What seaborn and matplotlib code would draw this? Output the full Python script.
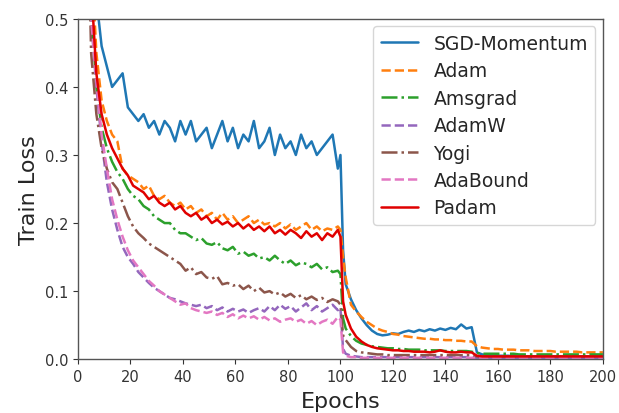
import matplotlib
matplotlib.use("Agg")
import matplotlib.pyplot as plt
import numpy as np
import pandas as pd
import seaborn as sns

# epochs: every other epoch before and after the lr drop at 100
epochs = list(range(1, 100, 2)) + [100, 101] + list(range(102, 201, 2))

sgd = [2.2, 1.2, 0.75, 0.53, 0.46, 0.43, 0.40, 0.41, 0.42, 0.37,
       0.36, 0.35, 0.36, 0.34, 0.35, 0.33, 0.35, 0.34, 0.32, 0.35,
       0.33, 0.35, 0.32, 0.33, 0.34, 0.31, 0.33, 0.35, 0.32, 0.34,
       0.31, 0.33, 0.32, 0.35, 0.31, 0.32, 0.34, 0.30, 0.33, 0.31,
       0.32, 0.30, 0.33, 0.31, 0.32, 0.30, 0.31, 0.32, 0.33, 0.28,
       0.30, 0.16,
       0.11, 0.088, 0.072, 0.060, 0.050, 0.042, 0.037, 0.035, 0.036, 0.038,
       0.037, 0.040, 0.042, 0.040, 0.043, 0.041, 0.044, 0.042, 0.045, 0.043,
       0.046, 0.044, 0.051, 0.045, 0.047, 0.010, 0.007, 0.006, 0.005, 0.005,
       0.005, 0.005, 0.004, 0.004, 0.004, 0.004, 0.004, 0.004, 0.004, 0.004,
       0.004, 0.004, 0.004, 0.004, 0.004, 0.004, 0.004, 0.004, 0.004, 0.004]

adam = [2.0, 1.0, 0.60, 0.45, 0.38, 0.35, 0.33, 0.32, 0.28, 0.27,
        0.265, 0.26, 0.25, 0.255, 0.24, 0.235, 0.24, 0.23, 0.225, 0.23,
        0.22, 0.225, 0.215, 0.22, 0.21, 0.215, 0.205, 0.215, 0.205, 0.21,
        0.20, 0.205, 0.21, 0.20, 0.205, 0.198, 0.20, 0.195, 0.20, 0.192,
        0.198, 0.19, 0.195, 0.20, 0.19, 0.195, 0.188, 0.192, 0.19, 0.195,
        0.19, 0.15,
        0.12, 0.08, 0.07, 0.062, 0.055, 0.050, 0.045, 0.042, 0.040, 0.037,
        0.036, 0.034, 0.033, 0.032, 0.031, 0.030, 0.030, 0.029, 0.029, 0.028,
        0.028, 0.027, 0.027, 0.026, 0.026, 0.019, 0.017, 0.016, 0.015, 0.015,
        0.014, 0.014, 0.014, 0.013, 0.013, 0.013, 0.012, 0.012, 0.012, 0.012,
        0.011, 0.011, 0.011, 0.011, 0.011, 0.010, 0.010, 0.010, 0.010, 0.010]

amsgrad = [1.9, 0.9, 0.52, 0.40, 0.34, 0.31, 0.29, 0.275, 0.265, 0.25,
           0.24, 0.235, 0.225, 0.22, 0.21, 0.205, 0.20, 0.20, 0.19, 0.185,
           0.185, 0.18, 0.175, 0.178, 0.17, 0.168, 0.172, 0.163, 0.16, 0.165,
           0.155, 0.158, 0.152, 0.155, 0.148, 0.15, 0.145, 0.152, 0.145, 0.14,
           0.145, 0.138, 0.142, 0.14, 0.135, 0.14, 0.132, 0.135, 0.128, 0.13,
           0.125, 0.06,
           0.045, 0.034, 0.027, 0.023, 0.021, 0.019, 0.018, 0.017, 0.016, 0.016,
           0.015, 0.015, 0.014, 0.014, 0.014, 0.013, 0.013, 0.013, 0.013, 0.012,
           0.012, 0.012, 0.012, 0.012, 0.011, 0.009, 0.008, 0.008, 0.008, 0.008,
           0.008, 0.008, 0.008, 0.007, 0.007, 0.007, 0.007, 0.007, 0.007, 0.007,
           0.007, 0.007, 0.007, 0.007, 0.007, 0.007, 0.007, 0.007, 0.007, 0.007]

adamw = [1.7, 0.8, 0.50, 0.40, 0.32, 0.26, 0.22, 0.19, 0.165, 0.15,
         0.14, 0.128, 0.12, 0.112, 0.105, 0.10, 0.095, 0.09, 0.088, 0.085,
         0.082, 0.08, 0.078, 0.08, 0.075, 0.078, 0.072, 0.076, 0.07, 0.074,
         0.07, 0.073, 0.068, 0.072, 0.075, 0.07, 0.078, 0.072, 0.08, 0.074,
         0.078, 0.07, 0.076, 0.082, 0.072, 0.078, 0.07, 0.075, 0.08, 0.072,
         0.075, 0.015,
         0.008, 0.005, 0.004, 0.003, 0.003, 0.003, 0.003, 0.003, 0.003, 0.003,
         0.003, 0.003, 0.003, 0.003, 0.003, 0.003, 0.003, 0.003, 0.003, 0.003,
         0.003, 0.003, 0.003, 0.003, 0.003, 0.002, 0.002, 0.002, 0.002, 0.002,
         0.002, 0.002, 0.002, 0.002, 0.002, 0.002, 0.002, 0.002, 0.002, 0.002,
         0.002, 0.002, 0.002, 0.002, 0.002, 0.002, 0.002, 0.002, 0.002, 0.002]

yogi = [1.8, 0.8, 0.45, 0.36, 0.31, 0.28, 0.26, 0.25, 0.23, 0.21,
        0.195, 0.185, 0.178, 0.17, 0.165, 0.16, 0.155, 0.15, 0.145, 0.14,
        0.13, 0.135, 0.125, 0.128, 0.12, 0.118, 0.122, 0.11, 0.112, 0.108,
        0.11, 0.103, 0.108, 0.10, 0.105, 0.098, 0.10, 0.095, 0.098, 0.092,
        0.096, 0.09, 0.094, 0.088, 0.092, 0.087, 0.09, 0.084, 0.088, 0.085,
        0.08, 0.035,
        0.028, 0.018, 0.012, 0.010, 0.009, 0.008, 0.007, 0.007, 0.006, 0.006,
        0.006, 0.006, 0.006, 0.006, 0.006, 0.006, 0.006, 0.006, 0.006, 0.006,
        0.006, 0.006, 0.006, 0.006, 0.006, 0.004, 0.004, 0.004, 0.004, 0.004,
        0.004, 0.004, 0.004, 0.004, 0.004, 0.004, 0.004, 0.004, 0.004, 0.004,
        0.004, 0.004, 0.004, 0.004, 0.004, 0.004, 0.004, 0.004, 0.004, 0.004]

adabound = [1.7, 0.8, 0.50, 0.41, 0.33, 0.28, 0.235, 0.205, 0.18, 0.16,
            0.145, 0.135, 0.125, 0.115, 0.108, 0.10, 0.095, 0.09, 0.085, 0.08,
            0.082, 0.075, 0.072, 0.07, 0.068, 0.07, 0.065, 0.068, 0.062, 0.066,
            0.06, 0.064, 0.06, 0.063, 0.058, 0.062, 0.057, 0.06, 0.055, 0.058,
            0.06, 0.055, 0.058, 0.052, 0.056, 0.05, 0.055, 0.058, 0.052, 0.062,
            0.058, 0.010,
            0.005, 0.003, 0.003, 0.002, 0.002, 0.002, 0.002, 0.002, 0.002, 0.002,
            0.002, 0.002, 0.002, 0.002, 0.002, 0.002, 0.002, 0.002, 0.002, 0.002,
            0.002, 0.002, 0.002, 0.002, 0.002, 0.002, 0.002, 0.002, 0.002, 0.002,
            0.002, 0.002, 0.002, 0.002, 0.002, 0.002, 0.002, 0.002, 0.002, 0.002,
            0.002, 0.002, 0.002, 0.002, 0.002, 0.002, 0.002, 0.002, 0.002, 0.002]

padam = [1.9, 0.95, 0.55, 0.42, 0.36, 0.33, 0.31, 0.295, 0.28, 0.27,
         0.255, 0.25, 0.245, 0.235, 0.24, 0.23, 0.225, 0.23, 0.22, 0.225,
         0.215, 0.21, 0.215, 0.205, 0.21, 0.20, 0.205, 0.198, 0.202, 0.195,
         0.20, 0.192, 0.198, 0.19, 0.195, 0.188, 0.195, 0.185, 0.19, 0.183,
         0.19, 0.185, 0.178, 0.188, 0.18, 0.185, 0.175, 0.185, 0.18, 0.19,
         0.18, 0.085,
         0.065, 0.045, 0.033, 0.026, 0.021, 0.018, 0.016, 0.015, 0.014, 0.013,
         0.013, 0.012, 0.012, 0.011, 0.011, 0.011, 0.010, 0.011, 0.013, 0.011,
         0.010, 0.010, 0.011, 0.010, 0.010, 0.005, 0.004, 0.004, 0.004, 0.004,
         0.004, 0.004, 0.004, 0.004, 0.004, 0.004, 0.004, 0.004, 0.004, 0.004,
         0.004, 0.004, 0.004, 0.004, 0.004, 0.004, 0.004, 0.004, 0.004, 0.004]

names = ['SGD-Momentum', 'Adam', 'Amsgrad', 'AdamW', 'Yogi', 'AdaBound', 'Padam']
series = [sgd, adam, amsgrad, adamw, yogi, adabound, padam]
colors = ['tab:blue', 'tab:orange', 'tab:green', 'tab:purple', 'tab:brown', 'tab:pink', '#e00000']
styles = ['-', '--', '-.', '--', '-.', '--', '-']

sns.set_style("ticks")
plt.rcParams['font.family'] = ['DejaVu Sans']

fig = plt.figure(figsize=(6.19, 4.14), dpi=100)
ax = fig.add_axes([0.126, 0.130, 0.848, 0.822])

for name, vals, c, ls in zip(names, series, colors, styles):
    sns.lineplot(x=epochs, y=vals, ax=ax, label=name, color=c, linestyle=ls, linewidth=1.8)

ax.set_xlim(0, 200)
ax.set_ylim(0, 0.5)
ax.set_xticks(range(0, 201, 20))
ax.set_yticks([0.0, 0.1, 0.2, 0.3, 0.4, 0.5])
ax.tick_params(labelsize=10.5, colors='#333333', length=3.5)
for s in ax.spines.values():
    s.set_color('#555555')
    s.set_linewidth(1.0)
ax.set_xlabel('Epochs', fontsize=16, labelpad=5)
ax.set_ylabel('Train Loss', fontsize=16)
ax.legend(loc='upper right', fontsize=13.5, frameon=True, borderaxespad=0.4,
          labelspacing=0.45)

fig.savefig('out.png', dpi=100)
